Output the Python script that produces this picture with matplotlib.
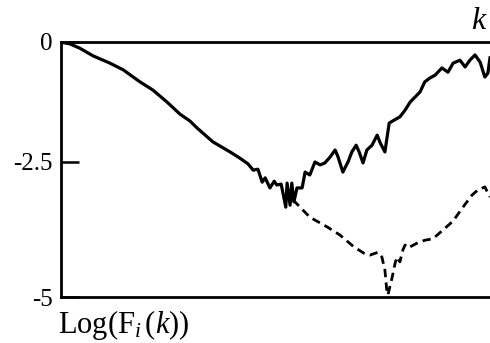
import matplotlib
matplotlib.use("Agg")
import matplotlib.pyplot as plt
import numpy as np

plt.rcParams['font.family'] = ['Liberation Serif', 'DejaVu Serif']
plt.rcParams['mathtext.fontset'] = 'custom'
plt.rcParams['mathtext.rm'] = 'Liberation Serif'
plt.rcParams['mathtext.it'] = 'Liberation Serif:italic'

# --- data (k on a 0..100 scale, values are Log(F_i(k))) ---
k_solid = [0.0, 0.9, 2.1, 4.4, 7.5, 11.4, 14.5, 18.4, 21.4, 24.7, 27.7, 30.1, 31.7,
           35.4, 39.4, 41.7, 43.6, 44.8, 45.9, 46.9, 47.6, 48.7, 49.7, 50.3, 51.3,
           51.5, 52.4, 52.7, 53.4, 53.8, 54.3, 55.0, 56.2, 56.9, 58.0, 59.2, 60.4,
           61.5, 62.7, 63.9, 64.6, 65.7, 66.9, 67.8, 68.8, 69.5, 70.4, 71.3, 72.5,
           73.7, 74.4, 75.5, 76.5, 77.6, 79.0, 80.2, 81.4, 82.5, 83.7, 84.8, 86.0,
           87.2, 88.8, 90.2, 91.4, 93.0, 94.2, 95.3, 96.5, 97.7, 98.8, 99.5, 100.0]
y_solid = [0.00, -0.02, -0.04, -0.13, -0.29, -0.44, -0.58, -0.83, -1.00, -1.25, -1.50,
           -1.65, -1.79, -2.08, -2.29, -2.42, -2.54, -2.67, -2.65, -2.92, -2.83,
           -3.04, -2.90, -2.98, -2.96, -3.04, -3.44, -2.94, -3.40, -2.94, -3.33,
           -3.04, -3.04, -2.71, -2.77, -2.50, -2.56, -2.52, -2.40, -2.25, -2.40,
           -2.71, -2.50, -2.29, -2.15, -2.29, -2.52, -2.25, -2.15, -1.94, -2.10,
           -2.29, -1.69, -1.63, -1.56, -1.42, -1.25, -1.15, -1.04, -0.83, -0.75,
           -0.69, -0.54, -0.63, -0.44, -0.38, -0.52, -0.38, -0.27, -0.42, -0.73,
           -0.65, -0.33]
k_dashed = [54.1, 58.0, 62.0, 65.0, 68.3, 70.6, 72.0, 73.9, 74.8, 75.5, 76.0, 76.2,
            77.2, 77.9, 78.3, 79.0, 79.7, 80.2, 80.9, 83.0, 84.8, 86.7, 89.0, 91.4,
            93.7, 95.8, 97.2, 98.8, 100.0]
y_dashed = [-3.29, -3.65, -3.85, -4.02, -4.27, -4.40, -4.44, -4.38, -4.48, -4.75,
            -5.23, -5.27, -4.90, -4.60, -4.48, -4.58, -4.33, -4.23, -4.29, -4.19,
            -4.13, -4.10, -3.92, -3.73, -3.44, -3.19, -3.08, -3.02, -3.23]

ytick_vals = [0, -2.5, -5.3125]
ytick_labels = ['0', '-2.5', '-5']

fig = plt.figure(figsize=(4.9, 3.43), dpi=100)
ax = fig.add_axes([61/490, 1-297/343, 429/490, 255/343])

ax.plot(k_solid, y_solid, color='black', lw=2.3, solid_joinstyle='round')
ax.plot(k_dashed, y_dashed, color='black', lw=2.0, dashes=(3, 1.9))

ax.set_xlim(0, 100)
ax.set_ylim(-5.3125, 0)
ax.set_xticks([])
ax.set_yticks(ytick_vals)
ax.set_yticklabels(ytick_labels, fontsize=18)
ax.tick_params(axis='y', direction='in', length=13, width=1.8, pad=6)

for s in ['top', 'left', 'bottom']:
    ax.spines[s].set_linewidth(2.0)
ax.spines['right'].set_visible(False)

ax.text(-0.007, -0.045, r'$\mathrm{Log(F}_{i}\,(k))$', transform=ax.transAxes,
        ha='left', va='top', fontsize=22)
ax.text(0.99, 1.025, 'k', transform=ax.transAxes, ha='right', va='bottom',
        fontsize=23, style='italic')

fig.savefig('out.png', dpi=100)
